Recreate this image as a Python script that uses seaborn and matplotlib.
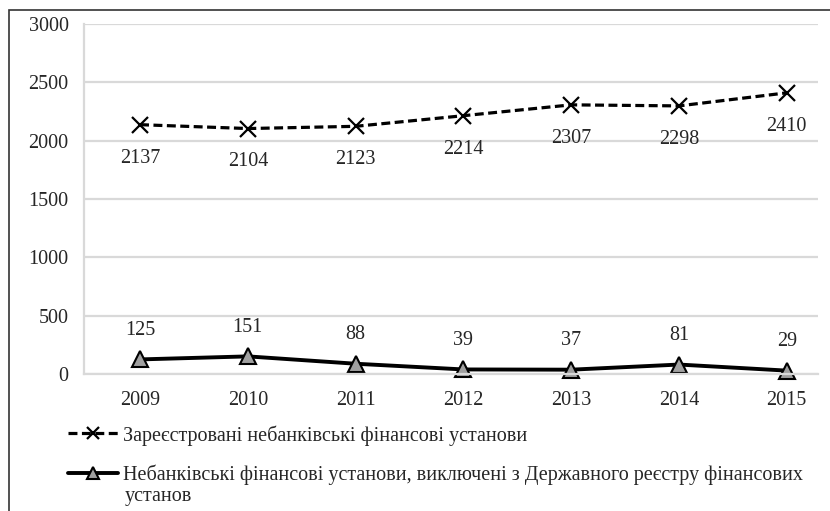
import matplotlib
matplotlib.use("Agg")
import matplotlib.pyplot as plt
import matplotlib.patches as mpatches
import pandas as pd
import seaborn as sns

years = ["2009", "2010", "2011", "2012", "2013", "2014", "2015"]
registered = [2137, 2104, 2123, 2214, 2307, 2298, 2410]
excluded = [125, 151, 88, 39, 37, 81, 29]
label_registered = "Зареєстровані небанківські фінансові установи"
label_excluded = "Небанківські фінансові установи, виключені з Державного реєстру фінансових"
label_excluded_tail = "установ"
y_ticks = [0, 500, 1000, 1500, 2000, 2500, 3000]

sns.set_theme(style="white")
plt.rcParams["font.family"] = ["Liberation Serif", "DejaVu Serif"]
FS = 14.5
TXT = "#262626"

df = pd.DataFrame({"year": list(range(len(years))) * 2,
                   "value": registered + excluded,
                   "series": [label_registered] * len(years) + [label_excluded] * len(years)})

fig = plt.figure(figsize=(8.3, 5.11), dpi=100)
ax = fig.add_axes([84 / 830, 137 / 511, 734 / 830, 350 / 511])

sns.lineplot(data=df[df.series == label_registered], x="year", y="value", ax=ax,
             color="black", linewidth=2.3, linestyle=(0, (2.8, 1.4)), marker="x",
             markersize=11, markeredgewidth=1.6, markeredgecolor="black",
             label=label_registered, clip_on=False)
sns.lineplot(data=df[df.series == label_excluded], x="year", y="value", ax=ax,
             color="black", linewidth=2.8, marker="^", markersize=11,
             markerfacecolor="#a0a0a0", markeredgecolor="black", markeredgewidth=1.5,
             label=label_excluded, clip_on=False)

for i, v in enumerate(registered):
    ax.annotate(str(v), (i, v), xytext=(0, -24), textcoords="offset points",
                ha="center", va="center", fontsize=FS, color=TXT)
for i, v in enumerate(excluded):
    ax.annotate(str(v), (i, v), xytext=(0, 21), textcoords="offset points",
                ha="center", va="center", fontsize=FS, color=TXT)

ax.set_xlim(-0.52, 6.29)
ax.set_ylim(0, 3000)
ax.set_yticks(y_ticks)
ax.set_xticks(range(len(years)))
ax.set_xticklabels(years)
ax.set_xlabel("")
ax.set_ylabel("")
ax.tick_params(axis="both", length=0, labelsize=FS, colors=TXT)
ax.tick_params(axis="y", pad=11)
ax.tick_params(axis="x", pad=12)
ax.grid(True, axis="y", color="#d9d9d9", linewidth=1.6)
for side in ["top", "right"]:
    ax.spines[side].set_visible(False)
for side in ["left", "bottom"]:
    ax.spines[side].set_color("#d9d9d9")
    ax.spines[side].set_linewidth(1.6)

leg = ax.legend(loc="upper left", bbox_to_anchor=(-16 / 734, -51 / 350), frameon=False,
                fontsize=FS, handlelength=2.5, handletextpad=0.25, labelspacing=0.95,
                borderaxespad=0, borderpad=0, markerscale=0.85)
for t in leg.get_texts():
    t.set_color(TXT)

fig.text(125 / 830, 1 - 496 / 511, label_excluded_tail, fontsize=FS, color=TXT,
         ha="left", va="center")

fig.patches.append(mpatches.Rectangle((9 / 830, -0.01), 1.0, 1 - 10 / 511 + 0.01,
                                      transform=fig.transFigure, fill=False,
                                      edgecolor="#333333", linewidth=1.2))

fig.savefig("out.png", dpi=100)
